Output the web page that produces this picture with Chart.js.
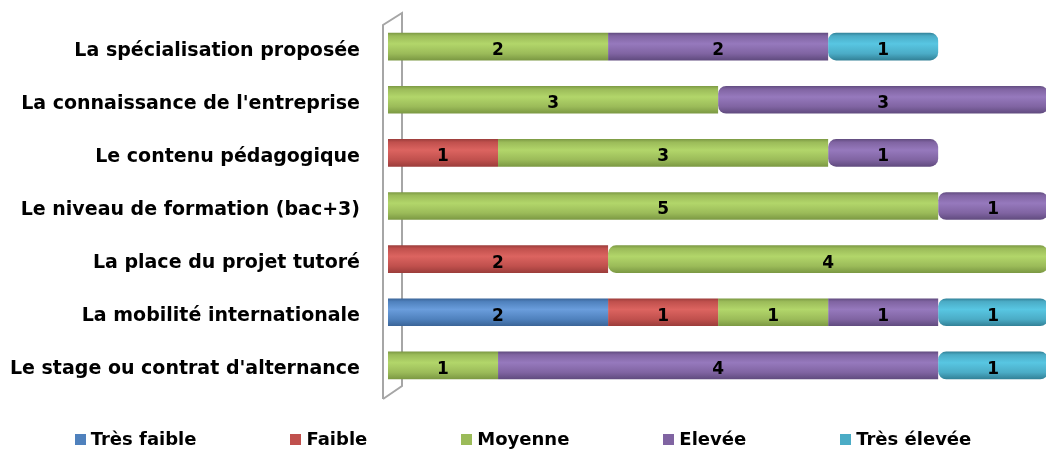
<!DOCTYPE html>
<html>
<head>
<meta charset="utf-8">
<script src="https://cdn.jsdelivr.net/npm/chart.js@4"></script>
<style>
  body { margin: 0; background: #fff; }
  #wrap { position: relative; width: 1046px; height: 450px; }
  #legend { position: absolute; left: 0; top: 428px; width: 1046px; display: flex; justify-content: center; gap: 94px;
    font-family: "DejaVu Sans", sans-serif; font-weight: bold; font-size: 18px; color: #000; }
  #legend span.box { display: inline-block; width: 11px; height: 11px; margin-right: 5px; }
</style>
</head>
<body>
<div id="wrap">
  <canvas id="barChart" width="1046" height="450"></canvas>
  <div id="legend"></div>
</div>
<script>
// categories, top to bottom
const categories = [
    'La spécialisation proposée',
    "La connaissance de l'entreprise",
    'Le contenu pédagogique',
    'Le niveau de formation (bac+3)',
    'La place du projet tutoré',
    'La mobilité internationale',
    "Le stage ou contrat d'alternance"
];
const seriesNames = ['Très faible', 'Faible', 'Moyenne', 'Elevée', 'Très élevée'];
const tresFaible = [null, null, null, null, null, 2, null];
const faible = [null, null, 1, null, 2, 1, null];
const moyenne = [2, 3, 3, 5, 4, 1, 1];
const elevee = [2, 3, 1, 1, null, 1, 4];
const tresElevee = [1, null, null, null, null, 1, 1];

// base / light / dark for the cylinder look
const palette = [
    ['#4f81bd', '#6a9ddc', '#3a6396'],
    ['#c0504d', '#dc6460', '#9a3c3a'],
    ['#9bbb59', '#b2d66a', '#7a9742'],
    ['#8064a2', '#9679bd', '#5f4a7d'],
    ['#4bacc6', '#58c6e2', '#317f95']
];

function cylinder(i) {
    return (context) => {
        const chart = context.chart;
        const y = chart.scales && chart.scales.y;
        if (!y || context.dataIndex === undefined || !chart.chartArea) return palette[i][0];
        const cy = y.getPixelForValue(context.dataIndex);
        const g = chart.ctx.createLinearGradient(0, cy - 14, 0, cy + 14);
        g.addColorStop(0, palette[i][2]);
        g.addColorStop(0.12, palette[i][0]);
        g.addColorStop(0.4, palette[i][1]);
        g.addColorStop(0.75, palette[i][0]);
        g.addColorStop(1, palette[i][2]);
        return g;
    };
}

const seriesValues = [tresFaible, faible, moyenne, elevee, tresElevee];

// grey 3D side wall
const wallPlugin = {
    id: 'wall',
    beforeDatasetsDraw(chart) {
        const { ctx, chartArea } = chart;
        const l = chartArea.left, t = chartArea.top, b = chartArea.bottom;
        ctx.save();
        ctx.strokeStyle = '#a6a6a6';
        ctx.lineWidth = 2;
        ctx.beginPath();
        ctx.moveTo(l - 5, b + 7);
        ctx.lineTo(l - 5, t + 5);
        ctx.lineTo(l + 14, t - 7);
        ctx.lineTo(l + 14, b - 6);
        ctx.lineTo(l - 5, b + 7);
        ctx.stroke();
        ctx.restore();
    }
};

// value in the middle of each segment
const valueLabels = {
    id: 'valueLabels',
    afterDatasetsDraw(chart) {
        const ctx = chart.ctx;
        ctx.save();
        ctx.font = 'bold 17px "DejaVu Sans", sans-serif';
        ctx.fillStyle = '#000';
        ctx.textAlign = 'center';
        ctx.textBaseline = 'middle';
        chart.data.datasets.forEach((ds, i) => {
            chart.getDatasetMeta(i).data.forEach((bar, j) => {
                if (ds.data[j] == null) return;
                const p = bar.getCenterPoint();
                ctx.fillText(ds.data[j], p.x, p.y + 4);
            });
        });
        ctx.restore();
    }
};

const barCtx = document.getElementById('barChart').getContext('2d');
const barChart = new Chart(barCtx, {
    type: 'bar',
    data: {
        labels: categories,
        datasets: seriesNames.map((name, i) => ({
            label: name,
            data: seriesValues[i],
            backgroundColor: cylinder(i),
            borderWidth: 0,
            borderRadius: 8,
            borderSkipped: false,
            barPercentage: 0.52,
            categoryPercentage: 1
        }))
    },
    options: {
        indexAxis: 'y',
        responsive: false,
        animation: false,
        layout: { padding: { top: 20, bottom: 58, right: 0, left: 0 } },
        plugins: {
            legend: { display: false },
            tooltip: { enabled: false }
        },
        scales: {
            x: {
                stacked: true,
                min: 0,
                max: 5.98,
                display: false
            },
            y: {
                stacked: true,
                grid: { display: true, drawOnChartArea: false, drawTicks: true, tickLength: 28, color: 'rgba(0,0,0,0)' },
                border: { display: false },
                afterFit(scale) { scale.width = 388; },
                ticks: {
                    color: '#000',
                    padding: 0,
                    labelOffset: 4,
                    font: { family: '"DejaVu Sans", sans-serif', weight: 'bold', size: 19 }
                }
            }
        }
    },
    plugins: [wallPlugin, valueLabels]
});

// legend under the chart
const legend = document.getElementById('legend');
seriesNames.forEach((name, i) => {
    const item = document.createElement('div');
    item.innerHTML = '<span class="box" style="background:' + palette[i][0] + '"></span>' + name;
    legend.appendChild(item);
});
</script>
</body>
</html>
